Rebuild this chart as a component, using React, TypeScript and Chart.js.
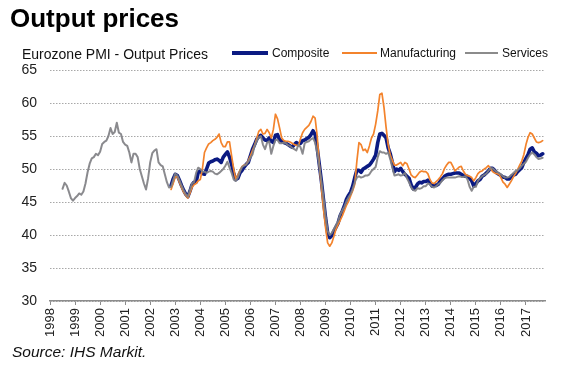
import React, { useEffect, useRef } from 'react';
import { Chart, registerables } from 'chart.js';

Chart.register(...registerables);

// ---------- data ----------
// monthly series; start given as [year, month(1-12)]
const servicesStart: [number, number] = [1998, 7];
const compositeStart: [number, number] = [2002, 11];
const manufacturingStart: [number, number] = [2002, 11];

const services: number[] = [
  47.0, 47.9, 47.5, 46.6, 45.6, 45.2, 45.6, 45.9, 46.3, 46.1, 46.6, 47.8,
  49.5, 50.8, 51.6, 51.8, 52.3, 52.1, 52.6, 53.8, 54.1, 54.3, 55.0, 56.2,
  55.3, 55.6, 57.0, 55.5, 55.3, 54.1, 53.7, 53.5, 52.5, 51.0, 52.3, 52.3,
  51.8, 50.0, 48.9, 47.8, 46.9, 48.6, 51.0, 52.4, 52.8, 53.0, 51.0, 50.6,
  50.4, 49.2, 48.0, 47.2,
  47.3, 48.3, 49.3, 49.0, 48.3, 47.5, 46.8, 46.2, 45.8, 46.8, 47.8, 48.0,
  49.4, 50.2, 50.0, 49.6, 49.6, 49.4, 49.6, 49.7, 49.6, 49.3, 49.2, 49.4,
  49.7, 50.0, 50.5, 51.1, 50.2, 49.4, 48.4, 48.2, 48.7, 49.6, 50.3, 50.5,
  50.7, 51.1, 51.7, 52.2, 53.5, 54.2, 54.8, 55.0, 53.7, 53.0, 54.0, 54.2,
  52.3, 53.5, 54.4, 54.4, 53.9, 53.9, 54.0, 53.9, 53.6, 53.5, 53.2, 53.0,
  52.8, 53.7, 53.3, 52.3, 53.9, 54.1, 54.2, 54.5, 54.7, 54.0, 52.5, 50.5,
  48.2, 45.7, 42.9, 40.6, 40.0, 40.3, 40.9, 41.5, 42.1, 43.1, 43.7, 44.3,
  45.1, 45.7, 46.2, 47.0, 48.0, 48.7, 48.9, 48.7, 48.8, 49.0, 49.0, 49.2,
  49.7, 50.0, 50.3, 51.8, 52.7, 52.5, 52.5, 52.3, 52.5, 51.5, 50.2, 49.0,
  49.1, 49.2, 49.0, 49.1, 49.4, 48.6, 48.0, 47.2, 46.8, 46.7, 47.1, 47.0,
  47.1, 47.4, 47.4, 47.8, 47.7, 47.3, 47.2, 47.4, 47.7, 47.9, 48.3, 48.6,
  48.7, 48.7, 48.7, 48.7, 48.7, 48.8, 48.9, 48.8, 48.8, 48.9, 48.4, 47.3,
  46.7, 47.3, 47.3, 48.2, 48.6, 48.9, 49.1, 49.3, 49.7, 50.1, 50.1, 49.8,
  49.6, 49.4, 49.2, 48.9, 48.7, 48.7, 48.8, 49.1, 49.4, 49.7, 49.8, 50.1,
  50.5, 50.8, 51.1, 51.7, 52.2, 52.5, 52.2, 51.8, 51.5, 51.6, 51.7,
];

const composite: number[] = [
  47.5, 48.5, 49.2, 49.0, 48.3, 47.5, 46.8, 46.2, 45.8, 46.6, 47.6, 48.0,
  48.0, 49.5, 49.7, 49.3, 49.2, 50.0, 50.9, 51.1, 51.2, 51.4, 51.5, 51.3,
  51.0, 51.8, 52.2, 52.6, 51.8, 50.7, 49.3, 48.4, 48.6, 49.4, 49.8, 50.3,
  50.7, 51.0, 52.0, 53.0, 53.7, 54.5, 54.9, 55.1, 54.7, 54.4, 54.3, 54.7,
  54.2, 54.0, 55.1, 55.2, 54.4, 54.2, 54.0, 53.9, 53.7, 53.5, 53.3, 53.7,
  54.0, 53.8, 53.9, 54.3, 54.4, 54.6, 54.8, 55.2, 55.8, 55.2, 53.2, 50.7,
  48.2, 45.4, 42.6, 40.3, 39.6, 39.9, 40.6, 41.2, 41.8, 42.9, 43.6, 44.4,
  45.4, 46.0, 46.5, 47.4, 48.7, 49.8, 49.8, 49.5, 50.0, 50.2, 50.4, 50.6,
  51.0, 51.5, 52.1, 54.0, 55.3, 55.4, 55.1, 54.7, 53.2, 52.3, 51.0, 49.6,
  50.0, 49.8, 50.1, 49.6, 49.2, 48.9, 48.6, 47.6, 47.0, 47.2, 47.7, 48.0,
  47.9, 48.1, 48.1, 48.3, 47.9, 47.4, 47.6, 47.5, 47.7, 48.2, 48.5, 48.9,
  49.1, 49.2, 49.2, 49.3, 49.4, 49.4, 49.4, 49.2, 49.0, 48.9, 48.9, 48.6,
  48.2, 47.4, 47.8, 48.2, 48.4, 48.9, 49.1, 49.4, 49.7, 50.1, 50.1, 49.8,
  49.4, 49.2, 49.0, 48.8, 48.7, 48.5, 48.5, 48.9, 49.1, 49.2, 49.6, 49.9,
  50.2, 51.0, 51.6, 52.2, 53.0, 53.2, 52.6, 52.4, 52.0, 52.1, 52.3,
];

const manufacturing: number[] = [
  46.9, 47.8, 48.8, 48.8, 48.0, 47.2, 46.5, 46.0, 45.6, 46.3, 47.2, 47.6,
  47.8, 48.2, 48.4, 50.0, 52.5, 53.2, 53.8, 54.0, 54.3, 54.5, 54.8, 55.3,
  54.0, 53.4, 53.4, 54.1, 54.1, 52.0, 50.0, 48.4, 49.1, 49.8, 50.4, 50.6,
  50.7, 51.3, 52.0, 52.8, 53.6, 54.6, 55.7, 56.0, 55.3, 55.4, 56.0, 55.5,
  54.7, 56.0, 58.3, 57.6, 56.2, 54.7, 54.3, 54.2, 54.2, 54.1, 53.9, 53.7,
  53.6, 53.5, 54.6, 55.5, 56.0, 56.3, 56.6, 57.2, 58.0, 57.7, 55.0, 50.7,
  47.2, 43.9, 41.1, 38.8, 38.3, 38.8, 39.8, 40.9, 41.6, 42.2, 42.9, 43.7,
  44.5, 45.1, 45.9, 46.7, 47.7, 51.2, 54.0, 53.7, 52.8, 53.0, 52.5, 53.5,
  54.7, 55.3, 56.8, 58.8, 61.3, 61.5, 59.3, 56.3, 53.7, 52.1, 51.3, 50.6,
  50.6, 50.8, 51.0, 50.5, 51.0, 50.8, 50.0, 49.1, 48.8, 48.7, 49.1, 49.5,
  49.7, 49.6, 49.6, 49.3, 48.4, 47.9, 47.8, 48.1, 48.4, 48.8, 49.3, 50.1,
  50.6, 51.0, 51.0, 50.4, 49.7, 50.0, 50.3, 50.4, 49.7, 49.2, 49.0, 48.9,
  48.7, 48.2, 48.7, 49.3, 49.6, 49.7, 50.0, 50.2, 50.5, 50.1, 49.6, 49.4,
  49.3, 49.2, 48.7, 48.0, 47.7, 47.2, 47.7, 48.2, 48.8, 49.3, 49.9, 50.6,
  51.2, 52.2, 53.7, 54.8, 55.5, 55.3, 54.7, 54.1, 54.0, 54.1, 54.3,
];

const xTickYears: number[] = [
  1998, 1999, 2000, 2001, 2002, 2003, 2004, 2005, 2006, 2007,
  2008, 2009, 2010, 2011, 2012, 2013, 2014, 2015, 2016, 2017,
];
const yTickValues: number[] = [30, 35, 40, 45, 50, 55, 60, 65];

const seriesNames = ['Composite', 'Manufacturing', 'Services'];
const titleText = 'Output prices';
const subtitleText = 'Eurozone PMI - Output Prices';
const sourceText = 'Source: IHS Markit.';

// ---------- styles ----------
const FONT = '"Liberation Sans", Arial, Helvetica, sans-serif';
const NAVY = '#0b1a82';
const ORANGE = '#f3832c';
const GRAY = '#8b8b8b';

function toPoints(start: [number, number], values: number[]) {
  return values.map((v, i) => ({ x: start[0] + (start[1] - 1 + i) / 12, y: v }));
}

export default function App() {
  const ref = useRef<HTMLCanvasElement>(null);

  useEffect(() => {
    if (!ref.current) return;
    const chart = new Chart(ref.current, {
      type: 'line',
      data: {
        datasets: [
          {
            label: seriesNames[0],
            data: toPoints(compositeStart, composite),
            borderColor: NAVY,
            borderWidth: 3.6,
            order: 3,
          },
          {
            label: seriesNames[1],
            data: toPoints(manufacturingStart, manufacturing),
            borderColor: ORANGE,
            borderWidth: 1.7,
            order: 2,
          },
          {
            label: seriesNames[2],
            data: toPoints(servicesStart, services),
            borderColor: 'rgba(128,128,132,0.92)',
            borderWidth: 2,
            order: 1,
          },
        ],
      },
      options: {
        responsive: false,
        animation: false,
        events: [],
        layout: { padding: { top: 70, right: 25, bottom: 24, left: 0 } },
        elements: {
          point: { radius: 0 },
          line: { tension: 0, borderJoinStyle: 'round', borderCapStyle: 'round' },
        },
        plugins: {
          legend: { display: false },
          tooltip: { enabled: false },
          title: { display: false },
        },
        scales: {
          x: {
            type: 'linear',
            min: 1998,
            max: 2017.76,
            afterBuildTicks: (s: any) => {
              s.ticks = xTickYears.map((v) => ({ value: v }));
            },
            afterFit: (s: any) => {
              s.height = 40;
            },
            grid: {
              drawOnChartArea: false,
              drawTicks: true,
              tickLength: 4,
              color: '#8c8c8c',
              lineWidth: 1,
            },
            border: { display: true, color: '#8c8c8c', width: 1.5 },
            ticks: {
              autoSkip: false,
              minRotation: 90,
              maxRotation: 90,
              padding: 3,
              color: '#222',
              font: { family: FONT, size: 13 },
              callback: (v: any) => String(v),
            },
          },
          y: {
            type: 'linear',
            min: 30,
            max: 65,
            afterBuildTicks: (s: any) => {
              s.ticks = yTickValues.map((v) => ({ value: v }));
            },
            afterFit: (s: any) => {
              s.width = 50;
            },
            grid: { drawTicks: false, color: '#a8a8a8', lineWidth: 1 },
            border: { display: false, dash: [1.5, 1.5] },
            ticks: {
              padding: 13,
              color: '#222',
              font: { family: FONT, size: 14 },
              callback: (v: any) => String(v),
            },
          },
        },
      },
    } as any);
    return () => chart.destroy();
  }, []);

  const text = (extra: React.CSSProperties): React.CSSProperties => ({
    position: 'absolute',
    whiteSpace: 'nowrap',
    lineHeight: 1,
    color: '#111',
    fontFamily: FONT,
    ...extra,
  });

  return (
    <div
      style={{
        position: 'absolute',
        left: 0,
        top: 0,
        width: 570,
        height: 365,
        background: '#fff',
        overflow: 'hidden',
      }}
    >
      <canvas
        ref={ref}
        width={570}
        height={365}
        style={{ position: 'absolute', left: 0, top: 0, width: 570, height: 365, display: 'block' }}
      />
      <div style={text({ left: 10, top: 5, fontSize: 26, fontWeight: 'bold', color: '#000' })}>
        {titleText}
      </div>
      <div style={text({ left: 22, top: 47, fontSize: 14 })}>{subtitleText}</div>

      <div style={{ position: 'absolute', left: 232, top: 51, width: 36, height: 4, background: NAVY }} />
      <div style={text({ left: 272, top: 47, fontSize: 12 })}>{seriesNames[0]}</div>
      <div style={{ position: 'absolute', left: 342, top: 52, width: 35, height: 2, background: ORANGE }} />
      <div style={text({ left: 380, top: 47, fontSize: 12 })}>{seriesNames[1]}</div>
      <div style={{ position: 'absolute', left: 465, top: 52, width: 33, height: 2, background: GRAY }} />
      <div style={text({ left: 502, top: 47, fontSize: 12 })}>{seriesNames[2]}</div>

      <div style={text({ left: 12, top: 344, fontSize: 15.5, fontStyle: 'italic' })}>{sourceText}</div>
    </div>
  );
}
